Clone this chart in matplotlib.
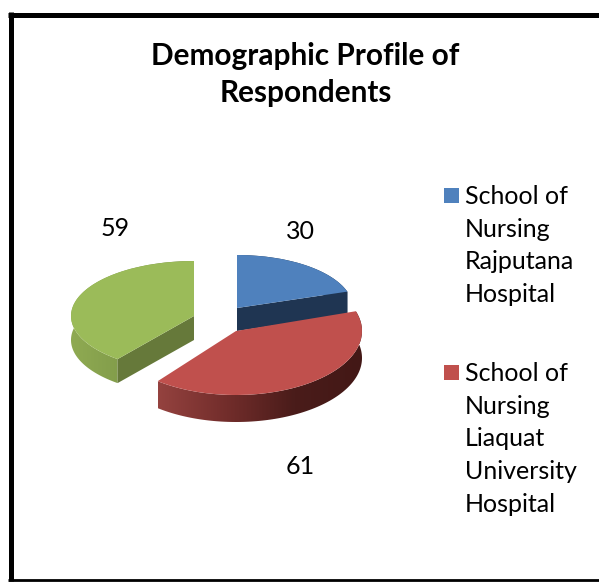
import numpy as np
import matplotlib
matplotlib.use("Agg")
import matplotlib.pyplot as plt
from matplotlib.colors import LinearSegmentedColormap
from matplotlib.patches import Polygon, Rectangle
from matplotlib.transforms import Affine2D

title_lines = ["Demographic Profile of", "Respondents"]
values = [30, 61, 59]
colors = ["#4F81BD", "#C0504D", "#9BBB59"]
legend_lines = [
    ["School of", "Nursing", "Rajputana", "Hospital"],
    ["School of", "Nursing", "Liaquat", "University", "Hospital"],
]

# pixel geometry of each exploded slice: cx, cy, a, b, depth
geometry = [(237, 308, 116, 53, 23), (236, 331, 126, 64, 27), (194, 316, 123, 55, 24)]
face_colors = ["#1F3552", None, "#66793A"]
wall_colors = [
    ["#24405F", "#1F3552"],
    ["#94423F", "#722D2B", "#4A1C1A", "#431816"],
    ["#8FAA52", "#7F9A49", "#6C8040"],
]
label_pos = [(300, 239), (300, 474), (115, 236)]

plt.rcParams["font.family"] = ["Lato", "DejaVu Sans"]

fig = plt.figure(figsize=(5.99, 5.82), dpi=100)
ax = fig.add_axes([0, 0, 1, 1])

# draw order: green and blue at the back, red in front
for i in [2, 0, 1]:
    wedges, _ = ax.pie(values, startangle=90, counterclock=False, colors=colors)
    cx, cy, a, b, depth = geometry[i]
    for j, w in enumerate(wedges):
        if j != i:
            w.remove()
    w = wedges[i]
    w.set_transform(Affine2D().scale(a, -b).translate(cx, cy) + ax.transData)
    w.set_zorder(3 + i)

    # outer wall, shaded left to right
    t = np.radians(np.linspace(w.theta1, w.theta2, 120))
    xs = cx + a * np.cos(t)
    ys = cy - b * np.sin(t)
    wall = np.vstack([np.column_stack([xs, ys]), np.column_stack([xs, ys + depth])[::-1]])
    poly = Polygon(wall, closed=True, transform=ax.transData, fc="none", ec="none")
    ax.add_patch(poly)
    cmap = LinearSegmentedColormap.from_list("wall", wall_colors[i])
    img = ax.imshow(np.linspace(0, 1, 128).reshape(1, -1), cmap=cmap, aspect="auto",
                    extent=(xs.min(), xs.max(), ys.max() + depth, ys.min()),
                    interpolation="bilinear", zorder=3 + i - 0.5)
    img.set_clip_path(poly)

    # cut face that can be seen from the front
    if face_colors[i] is not None:
        edge = w.theta1 if i == 0 else w.theta2
        ex = cx + a * np.cos(np.radians(edge))
        ey = cy - b * np.sin(np.radians(edge))
        ax.add_patch(Polygon([(cx, cy), (ex, ey), (ex, ey + depth), (cx, cy + depth)],
                             closed=True, fc=face_colors[i], ec="none", zorder=3 + i - 0.2))

ax.set_aspect("auto")
ax.set_xlim(0, 599)
ax.set_ylim(582, 0)
ax.axis("off")

# frame, runs off the right edge
ax.plot([10.5, 10.5], [12, 581], color="black", lw=3.6, solid_capstyle="butt", zorder=10)
ax.plot([8, 599], [14.5, 14.5], color="black", lw=3.6, solid_capstyle="butt", zorder=10)
ax.plot([8, 599], [580, 580], color="black", lw=2.0, solid_capstyle="butt", zorder=10)

for line, y in zip(title_lines, [65, 102]):
    ax.text(305.5, y, line, ha="center", va="baseline", fontsize=21.4, fontweight="bold", color="black")

for v, (x, y) in zip(values, label_pos):
    ax.text(x, y, str(v), ha="center", va="baseline", fontsize=18, color="black")

for k, (lines, y0) in enumerate(zip(legend_lines, [204, 381])):
    ax.add_patch(Rectangle((444, y0 - 16), 15, 15, fc=colors[k], ec="none", zorder=5))
    for n, line in enumerate(lines):
        ax.text(465, y0 + n * 32.7, line, ha="left", va="baseline", fontsize=18, color="black")

fig.savefig("out.png", dpi=100, facecolor="white")
